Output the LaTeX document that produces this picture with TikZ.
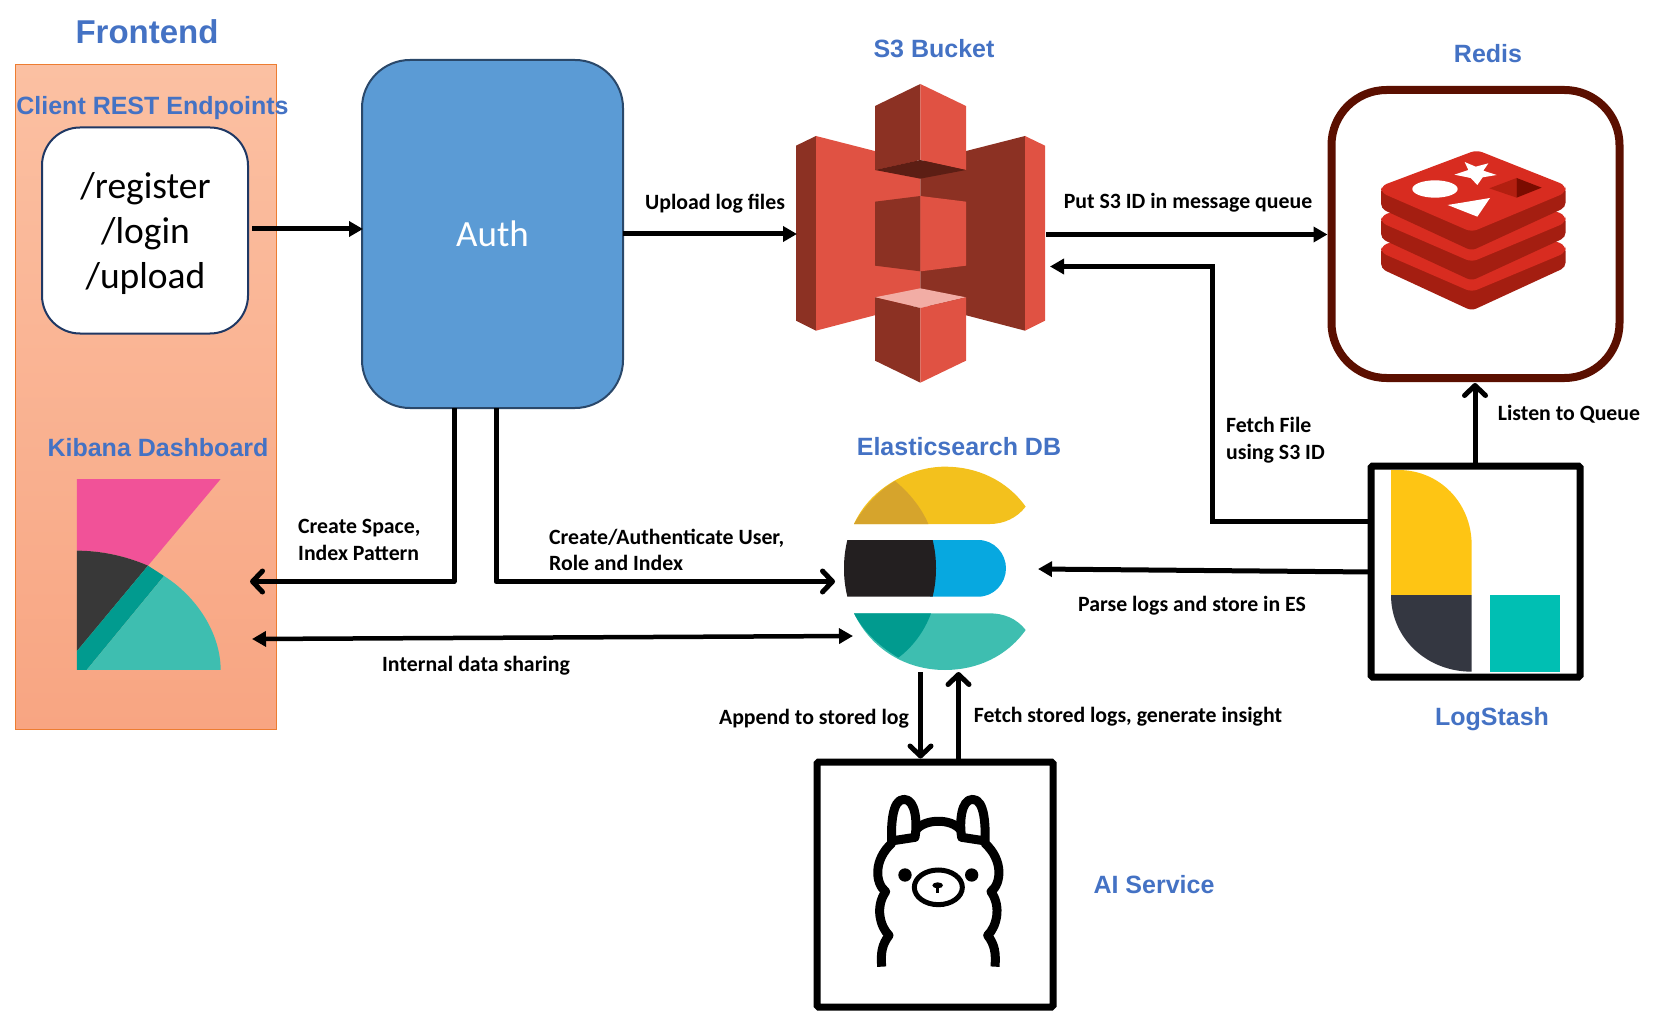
\documentclass[tikz,border=0pt]{standalone}
\usepackage{fontspec}
\setmainfont{Carlito}
\newfontfamily\headfont{Liberation Sans}
\usetikzlibrary{arrows.meta,calc}
\definecolor{headblue}{HTML}{4472C4}
\definecolor{sred}{HTML}{E05243}
\definecolor{sdark}{HTML}{8C3123}
\definecolor{rlight}{HTML}{D82C20}
\definecolor{rdark}{HTML}{A41E11}
\definecolor{tealL}{HTML}{3EBEB0}
\definecolor{tealD}{HTML}{019B8F}
\tikzset{
  x=1pt,y=-1pt,
  lbl/.style={font=\fontsize{21.8}{26.5}\selectfont\bfseries,text=black,inner sep=0pt,align=left},
  head/.style={font=\headfont\fontsize{#1}{#1}\selectfont\bfseries,text=headblue,inner sep=0pt},
  ghost/.style={inner sep=0pt,outer sep=0pt},
  flow/.style={line width=5pt,draw=black,-{Triangle[length=14pt,width=15pt]}},
  open/.style={line width=5pt,draw=black,line join=round,-{Straight Barb[length=10pt,width=21pt,line width=5pt,round]}},
  bidir/.style={line width=4.5pt,draw=black,{Triangle[length=14pt,width=15pt]}-{Triangle[length=14pt,width=15pt]}},
  icon/.style={shift={#1},scale=0.33333},
  boxline/.style={draw=black,line width=7pt,fill=white,rounded corners=1.5pt,inner sep=0pt},
}
\begin{document}
\begin{tikzpicture}
\useasboundingbox (0,0) rectangle (1658,1011);
% Frontend panel
\path[draw={rgb,255:red,237;green,125;blue,49},line width=1pt,top color={rgb,255:red,251;green,192;blue,162},bottom color={rgb,255:red,248;green,165;blue,130}] (15,65) rectangle (276.5,729);
\node[head=33] (frontend) at (147,32) {Frontend};
\node[head=25] (clienthead) at (152.5,108.5) {Client REST Endpoints};
\node[head=25] (kibanahead) at (158,448) {Kibana Dashboard};
% Client box
\node[ghost,draw={rgb,255:red,31;green,56;blue,100},line width=2pt,fill=white,rounded corners=38pt,minimum width=206pt,minimum height=206pt] (client) at (145,230.5) {};
\node[ghost,align=center,font=\fontsize{37.5}{45}\selectfont] (clienttext) at (145.5,234) {/register\\/login\\/upload};
% Auth
\node[ghost,draw={rgb,255:red,42;green,72;blue,106},line width=2pt,fill={rgb,255:red,91;green,155;blue,213},rounded corners=48pt,minimum width=261pt,minimum height=348pt] (auth) at (492.5,234) {};
\node[ghost,font=\fontsize{37}{45}\selectfont,text=white] (authtext) at (492.5,234) {Auth};
% Kibana logo
\begin{scope}[icon={(0,400)}]
\fill[fill={rgb,255:red,241;green,82;blue,152}] (231,237) -- (662,237) -- (444,497) .. controls (375,467) and (300,452) .. (231,452) -- cycle;
\fill[fill={rgb,255:red,56;green,56;blue,56}] (231,452) .. controls (300,452) and (375,467) .. (444,497) -- (231,753) -- cycle;
\fill[tealD] (231,753) -- (444,497) -- (492,528) -- (260,810) -- (231,810) -- cycle;
\fill[tealL] (260,810) -- (492,528) .. controls (590,590) and (662,700) .. (662,810) -- cycle;
\end{scope}
\node[ghost,minimum width=143pt,minimum height=191pt] (kibana) at (148,574) {};
% S3 logo
\begin{scope}[icon={(780,70)}]
\fill[sdark] (48,227) -- (108,198) -- (108,782) -- (48,752) -- cycle;
\fill[sred] (108,198) -- (421,278) -- (421,700) -- (108,782) -- cycle;
\fill[sdark] (735,198) -- (421,278) -- (421,700) -- (735,782) -- cycle;
\fill[sred] (735,198) -- (795,227) -- (795,752) -- (735,782) -- cycle;
\fill[sdark] (285,108) -- (421,42) -- (421,270) -- (285,300) -- cycle;
\fill[sred] (421,42) -- (558,108) -- (558,300) -- (421,270) -- cycle;
\fill[fill={rgb,255:red,92;green,30;blue,20}] (285,300) -- (421,270) -- (558,300) -- (421,326) -- cycle;
\fill[sdark] (285,395) -- (421,378) -- (421,604) -- (285,587) -- cycle;
\fill[sred] (421,378) -- (558,395) -- (558,587) -- (421,604) -- cycle;
\fill[fill={rgb,255:red,242;green,173;blue,165}] (285,682) -- (421,655) -- (558,682) -- (421,714) -- cycle;
\fill[sdark] (285,682) -- (421,714) -- (421,938) -- (285,872) -- cycle;
\fill[sred] (421,714) -- (558,682) -- (558,872) -- (421,938) -- cycle;
\end{scope}
\node[ghost,minimum width=249pt,minimum height=299pt] (s3) at (921.5,234) {};
\node[head=25] (s3head) at (934,49) {S3 Bucket};
% Redis
\node[ghost,draw={rgb,255:red,91;green,15;blue,0},line width=8pt,fill=white,rounded corners=55pt,minimum width=288pt,minimum height=288pt] (redis) at (1475.5,234) {};
\node[head=25] (redishead) at (1488,54) {Redis};
\begin{scope}[icon={(1320,80)}]
\foreach \dy in {180,90,0}{
  \fill[rdark,rounded corners=5pt] (183,{320+\dy}) -- (183,{386+\dy}) -- (455,{512+\dy}) -- (737,{382+\dy}) -- (737,{320+\dy}) -- cycle;
  \fill[rlight,rounded corners=6pt] (470,{210+\dy}) -- (737,{316+\dy}) -- (737,{338+\dy}) -- (455,{456+\dy}) -- (183,{338+\dy}) -- (183,{318+\dy}) -- cycle;
}
\fill[white] (345,327) ellipse [x radius=68,y radius=26];
\fill[white] (434,246) -- (467,260) -- (505,250) -- (490,272) -- (530,285) -- (488,292) -- (472,315) -- (452,294) -- (403,284) -- (445,270) -- cycle;
\fill[white] (383,375) -- (510,354) -- (472,410) -- cycle;
\fill[fill={rgb,255:red,178;green,31;blue,16}] (508,325) -- (590,294) -- (590,353) -- cycle;
\fill[fill={rgb,255:red,122;green,12;blue,0}] (590,294) -- (665,323) -- (590,353) -- cycle;
\end{scope}
% Elasticsearch logo
\begin{scope}[icon={(830,450)}]
\fill[fill={rgb,255:red,243;green,193;blue,29}] (72,222) .. controls (120,115) and (240,50) .. (345,50) .. controls (440,50) and (530,90) .. (587,170) .. controls (560,205) and (520,222) .. (480,222) -- cycle;
\fill[fill={rgb,255:red,214;green,164;blue,44}] (72,222) .. controls (105,165) and (150,120) .. (195,93) .. controls (240,130) and (275,175) .. (295,222) -- cycle;
\fill[fill={rgb,255:red,7;green,168;blue,224}] (300,270) -- (445,270) .. controls (492,270) and (528,310) .. (528,355) .. controls (528,400) and (492,440) .. (445,440) -- (300,440) -- cycle;
\fill[fill={rgb,255:red,35;green,31;blue,32}] (52,270) -- (308,270) .. controls (315,300) and (318,325) .. (318,355) .. controls (318,385) and (315,410) .. (308,440) -- (52,440) .. controls (45,410) and (42,385) .. (42,355) .. controls (42,325) and (45,300) .. (52,270) -- cycle;
\fill[tealL] (72,490) -- (480,490) .. controls (520,490) and (560,505) .. (587,540) .. controls (530,620) and (440,660) .. (345,660) .. controls (230,660) and (125,600) .. (72,490) -- cycle;
\fill[tealD] (72,490) -- (303,490) .. controls (285,540) and (250,590) .. (205,623) .. controls (150,590) and (100,545) .. (72,490) -- cycle;
\end{scope}
\node[ghost,minimum width=182pt,minimum height=204pt] (es) at (944,569) {};
\node[head=25] (eshead) at (959,447) {Elasticsearch DB};
% Logstash
\node[boxline,minimum width=209pt,minimum height=211pt] (logstash) at (1475.5,571.5) {};
\begin{scope}[icon={(1360,450)}]
\fill[fill={rgb,255:red,254;green,197;blue,20}] (93,60) -- (115,60) .. controls (240,60) and (335,160) .. (335,285) -- (335,435) -- (93,435) -- cycle;
\fill[fill={rgb,255:red,52;green,55;blue,65}] (93,435) -- (335,435) -- (335,665) .. controls (200,665) and (93,565) .. (93,435) -- cycle;
\fill[fill={rgb,255:red,0;green,191;blue,179}] (390,435) rectangle (600,665);
\end{scope}
\node[head=25] (lshead) at (1492,719.5) {LogStash};
% Ollama
\node[boxline,minimum width=236pt,minimum height=245pt] (ollama) at (935,884.5) {};
\begin{scope}[icon={(810,750)}]
\begin{scope}[line width=9pt,draw=black,line join=round]
\draw (215,650) .. controls (212,610) and (215,585) .. (237,556) .. controls (210,530) and (195,470) .. (227,425) .. controls (195,400) and (190,330) .. (245,280) .. controls (243,230) and (245,148) .. (282,148) .. controls (318,148) and (322,220) .. (315,262) -- (250,272);
\draw (555,650) .. controls (558,610) and (555,585) .. (533,556) .. controls (560,530) and (575,470) .. (543,425) .. controls (575,400) and (580,330) .. (525,280) .. controls (527,230) and (525,148) .. (488,148) .. controls (452,148) and (448,220) .. (455,262) -- (520,272);
\draw (318,240) .. controls (345,205) and (425,205) .. (452,240);
\end{scope}
\draw[line width=5pt] (385,412) ellipse [x radius=72,y radius=52];
\fill (285,375) circle [radius=20];
\fill (485,375) circle [radius=20];
\fill (383,406) ellipse [x radius=16,y radius=9];
\draw[line width=2.5pt] (383,406) -- (383,428);
\end{scope}
\node[head=25] (aihead) at (1154,885) {AI Service};
% Connectors
\coordinate (clientout) at (252,229);
\draw[flow] (clientout) -- ([xshift=1pt]auth.west |- clientout);
\draw[flow] (auth.east) -- (s3.west);
\coordinate (s3out) at (1046,234.5);
\draw[flow] (s3out) -- ([xshift=-4pt]redis.west |- s3out);
\coordinate (fetchturn) at (1212,521);
\coordinate (s3in) at (1050,266.5);
\draw[flow,line join=miter] (logstash.west |- fetchturn) -- (fetchturn) -- (fetchturn |- s3in) -- (s3in);
\coordinate (parsein) at (1038,569);
\draw[flow] (1371,572) -- (parsein);
\coordinate (kin) at (250,581.5);
\coordinate (esin) at (835,581.5);
\draw[open] (auth.south -| 454,0) -- (454,581.5) -- (kin);
\draw[open] (auth.south -| 496,0) -- (496,581.5) -- (esin);
\coordinate (kbi) at (252,639);
\coordinate (ebi) at (853,636);
\draw[bidir] (kbi) -- (ebi);
\draw[open] (920.5,672) -- (ollama.north -| 920.5,0);
\draw[open] (ollama.north -| 958.5,0) -- (958.5,672);
\draw[open] (logstash.north -| 1475,0) -- (1475,383);
% Labels
\node[lbl] (l1) at (715,203.5) {Upload log files};
\node[lbl] (l2) at (1188,203) {Put S3 ID in message queue};
\node[lbl,anchor=west] (l3) at (1226,440) {Fetch File\\using S3 ID};
\node[lbl] (l4) at (1569,414) {Listen to Queue};
\node[lbl,anchor=west] (l5) at (298,540) {Create Space,\\Index Pattern};
\node[lbl,anchor=west] (l6) at (549,550) {Create/Authenticate User,\\Role and Index};
\node[lbl] (l7) at (1192,606) {Parse logs and store in ES};
\node[lbl] (l8) at (476,666) {Internal data sharing};
\node[lbl] (l9) at (814,719) {Append to stored log};
\node[lbl] (l10) at (1128,717) {Fetch stored logs, generate insight};
\end{tikzpicture}
\end{document}
